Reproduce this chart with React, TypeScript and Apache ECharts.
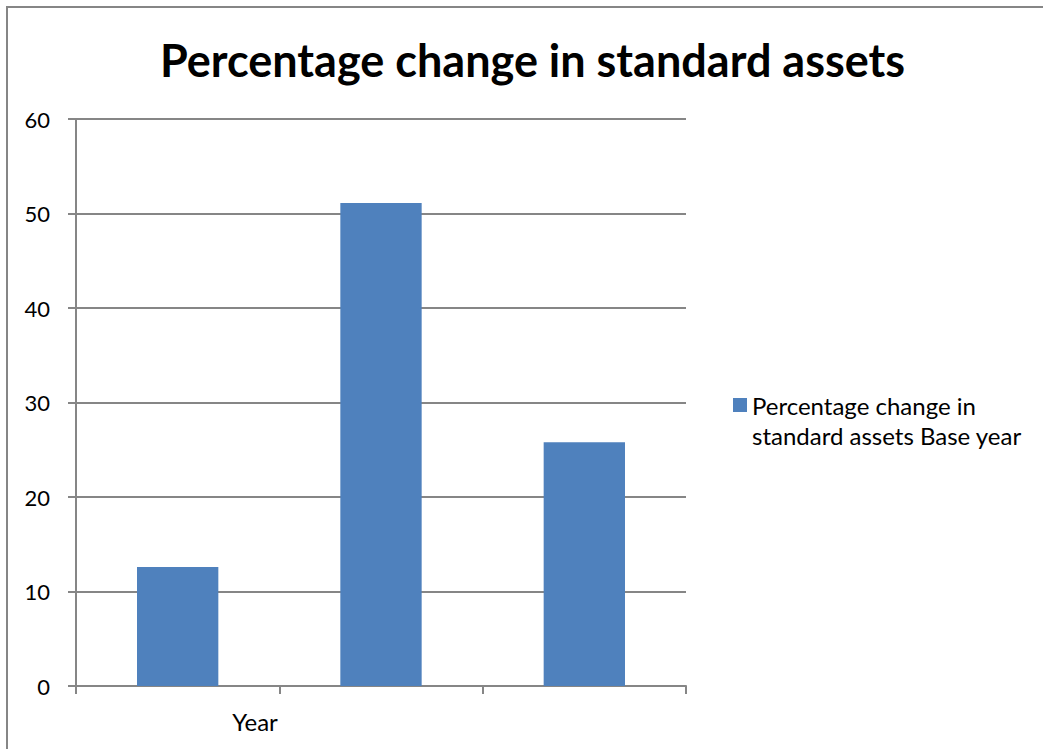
import React, { useEffect, useRef } from "react";
import * as echarts from "echarts";

const titleText = "Percentage change in standard assets";
const categories = ["A", "B", "C"];
const seriesName = "Percentage change in standard assets Base year";
const values = [12.6, 51.1, 25.8];
const yTicks = { min: 0, max: 60, interval: 10 };
const axisTitle = "Year";

const FONT = "Lato";
const GRAY = "#868686";

export default function App() {
  const ref = useRef<HTMLDivElement>(null);
  useEffect(() => {
    if (!ref.current) return;
    const chart = echarts.init(ref.current, undefined, { renderer: "svg" });
    chart.setOption({
      animation: false,
      backgroundColor: "#ffffff",
      title: {
        text: titleText,
        left: 155,
        top: 32,
        textStyle: { fontFamily: FONT, fontWeight: "bold", fontSize: 45, color: "#000" },
      },
      legend: {
        left: 728,
        top: 355,
        orient: "vertical",
        icon: "rect",
        itemWidth: 14,
        itemHeight: 14,
        data: [seriesName],
        formatter: () => "{sp|}\nPercentage change in\nstandard assets Base year",
        textStyle: {
          fontFamily: FONT,
          fontSize: 24,
          color: "#000",
          lineHeight: 30,
          rich: { sp: { height: 30, lineHeight: 30 } },
        },
      },
      grid: { left: 76, top: 119, width: 610, height: 567, containLabel: false },
      xAxis: {
        type: "category",
        data: categories,
        axisLine: { lineStyle: { color: GRAY, width: 2 } },
        axisTick: { show: true, length: 8, alignWithLabel: false, lineStyle: { color: GRAY, width: 2 } },
        axisLabel: { show: false },
      },
      yAxis: {
        type: "value",
        min: yTicks.min,
        max: yTicks.max,
        interval: yTicks.interval,
        axisLine: { show: true, lineStyle: { color: GRAY, width: 2 } },
        axisTick: { show: true, length: 8, lineStyle: { color: GRAY, width: 2 } },
        splitLine: { show: true, lineStyle: { color: GRAY, width: 2 } },
        axisLabel: { fontFamily: FONT, fontSize: 22, color: "#000", margin: 26 },
      },
      series: [
        {
          name: seriesName,
          type: "bar",
          data: values,
          barCategoryGap: "60%",
          itemStyle: { color: "#4F81BD" },
        },
      ],
      graphic: [
        {
          type: "polyline",
          shape: { points: [[7, 749], [7, 7], [1043, 7]] },
          style: { stroke: GRAY, lineWidth: 2, fill: null },
          z: 100,
        },
        {
          type: "text",
          x: 255,
          y: 721,
          style: {
            text: axisTitle,
            fontFamily: FONT,
            fontSize: 24,
            fill: "#000",
            align: "center",
            verticalAlign: "middle",
          },
        },
      ],
    });
    return () => chart.dispose();
  }, []);
  return (
    <div
      ref={ref}
      style={{ position: "absolute", left: 0, top: 0, width: 1043, height: 749 }}
    />
  );
}
